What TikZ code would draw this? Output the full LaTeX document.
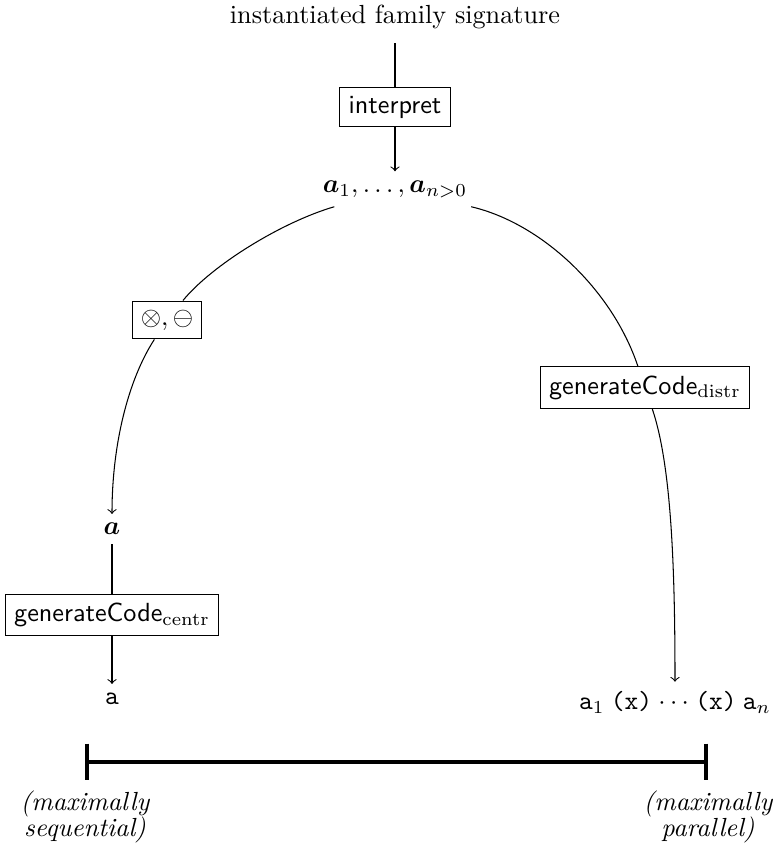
\documentclass[tikz,border=0pt]{standalone}
\usepackage{bm}
\tikzset{
  box/.style={draw, fill=white, font=\sffamily, inner sep=3.33pt},
  endlbl/.style={align=center, font=\itshape},
  scalebar/.style={ultra thick},
}
\newcommand{\gapsp}{\hspace{2.4pt}}
\begin{document}
\begin{tikzpicture}[x=0.3817pt, y=-0.3817pt, >=to, line width=0.4pt]
\useasboundingbox (0,0) rectangle (773,849);
% nodes
\node (title) at (395,17) {instantiated family signature};
\node[box] (interp) at (395,107) {interpret};
\node (as) at (395,189) {$\bm{a}_1, \ldots, \bm{a}_{n>0}$};
\node[box] (op) at (167,320) {$\otimes, \ominus$};
\node (abold) at (112,529) {$\bm{a}$};
\node[box] (centr) at (112,615) {generateCode$_{\mathrm{centr}}$};
\node (ta) at (112,699) {\texttt{a}};
\node[box] (dist) at (645,387.5) {generateCode$_{\mathrm{distr}}$};
\node (tn) at (675,702) {\texttt{a}$_1$\gapsp\texttt{(x)}\gapsp$\cdots$\gapsp\texttt{(x)}\gapsp\texttt{a}$_n$};
% connectors
\draw[shorten <=2pt] (title) -- (interp);
\draw[->] (interp) -- (as);
\draw (as) .. controls (282,222) and (212,265) .. (op);
\draw[->] (op) .. controls (128,380) and (112,445) .. (abold);
\draw (abold) -- (centr);
\draw[->] (centr) -- (ta);
\draw (as) .. controls (541,223) and (612,289) .. (dist);
\draw[->] (dist) .. controls (671,464) and (675,563) .. (tn);
% scale bar
\coordinate (bl) at (87,762);
\coordinate (br) at (706,762);
\draw[scalebar] (bl) -- (br);
\draw[scalebar] ([yshift=7pt]bl) -- ([yshift=-7pt]bl);
\draw[scalebar] ([yshift=7pt]br) -- ([yshift=-7pt]br);
\node[endlbl] (lseq) at (85,817) {(maximally\\[-2.3pt]sequential)};
\node[endlbl] (rpar) at (708,817) {(maximally\\[-2.3pt]parallel)};
\end{tikzpicture}
\end{document}
